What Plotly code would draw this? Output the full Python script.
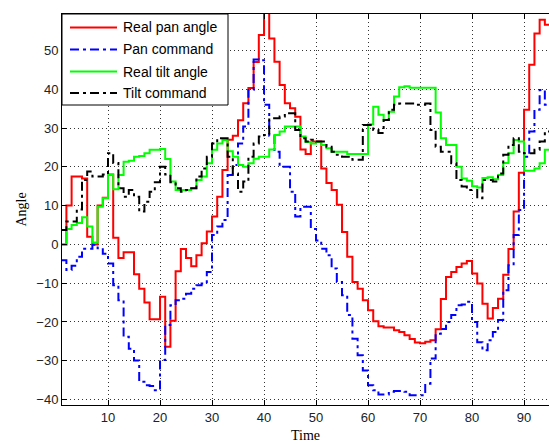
import plotly.graph_objects as go

time = list(range(1, 96))

real_pan = [
    0, 10, 17.5, 17.5, 17, 2, 0, 10, 12, 18,
    1.7, -3.5, -2, -2, -7.7, -11.4, -15, -19.3, -19.3, -13.5,
    -26.4, -19.7, -6.9, -1.2, -3.5, -5.6, -2.8, 0.3, 3.3, 7.2,
    12.3, 19.2, 27, 28, 32, 36.4, 40.3, 47, 54, 62,
    53.1, 47.1, 41.1, 36.4, 35.1, 32.9, 24.5, 23.3, 26.5, 26.5,
    19.6, 15.8, 14, 10.2, 3.2, -3.2, -9.7, -11.4, -14.4, -17,
    -19.8, -21.1, -21.4, -21.4, -22.1, -22.6, -23.4, -24.4, -25.3, -25.5,
    -25.1, -24.7, -21.9, -14.1, -8.4, -7.1, -5.8, -4.9, -4.3, -7.5,
    -10.1, -15.3, -19.1, -16.4, -14, -7.8, -1.2, 8.5, 18.5, 34.7,
    46.3, 54.4, 57.9, 56.6, 50.6,
]

pan_cmd = [
    -4.1, -6.6, -5.5, -3.2, -1.1, -1.1, -0.1, -1, -2.4, -4.9,
    -10.5, -14.4, -23.8, -26.9, -29.9, -35.4, -36.3, -36.5, -37.6, -29.8,
    -20.8, -15.7, -14.4, -14, -12.7, -11.4, -10.5, -10.1, -7.1, 2.4,
    4.6, 6.3, 17.9, 20.5, 26, 30.4, 39.8, 47.7, 47.5, 36,
    28, 23.9, 20, 20, 13.6, 7.2, 9.7, 9.7, 4, 1,
    -1.1, -2.8, -6.2, -9.7, -13.1, -18.2, -24.3, -28.6, -32.5, -36.3,
    -37.6, -38.7, -38.7, -38, -37.8, -37.8, -38, -38.9, -38.9, -38.9,
    -35.9, -29.4, -23, -21.8, -20, -18.2, -15.7, -15.5, -14.8, -20,
    -25.2, -27.3, -24.7, -22.6, -19.5, -11.8, -5.4, 2.4, 8.9, 22.6,
    29.1, 34.7, 39.8, 36, 33,
]

real_tilt = [
    0, 4, 5, 5.5, 7, 4.6, 0.5, 9.7, 11.9, 17.9,
    14.2, 17.9, 21.3, 21.6, 22.6, 22.8, 23.5, 24.4, 24.4, 24.6,
    22, 16.2, 14, 14, 14, 14.5, 16.6, 17.5, 20.9, 24.4,
    26, 26.9, 24, 22.6, 20.5, 20, 20.9, 22.1, 22.6, 22.6,
    24.5, 28.2, 29.1, 30.4, 30.4, 30.4, 27.8, 26.4, 26, 26.4,
    25.6, 24.8, 23.9, 23.9, 23.9, 23.3, 23.3, 23.3, 23.3, 31,
    35.5, 33.4, 32.1, 34.2, 38.1, 40.5, 40.8, 40.4, 40.4, 40.4,
    40.4, 40.4, 34, 27.4, 25.6, 25.6, 20, 17, 16.4, 15,
    14.7, 17.1, 17.3, 16.8, 17.9, 21, 23.5, 26.9, 26.5, 19,
    19, 19.6, 20.9, 24.4, 24.6,
]

tilt_cmd = [
    3.7, 5.9, 5.9, 9, 16.6, 18.8, 17.5, 17.5, 18, 23.5,
    21, 14.5, 12.3, 14, 12.3, 8.5, 11, 13.6, 16, 20,
    18, 16, 14.5, 13.6, 14, 14.5, 17.5, 19.6, 22.6, 26,
    27.4, 27.4, 22.6, 18.3, 13.6, 16.2, 22.6, 26, 27.8, 28.2,
    32.5, 32.5, 33, 33.8, 33.8, 29.5, 27.4, 26.5, 27, 26.5,
    26.5, 25.2, 23.9, 23.1, 22.6, 22.6, 21.8, 21.8, 30.8, 30.8,
    29.5, 28.7, 32.1, 34.7, 36, 36.3, 36.3, 36.3, 36, 36,
    36.3, 29.5, 25.2, 23.9, 23.9, 20.9, 16.6, 14.9, 14, 14,
    11.9, 16.6, 16.6, 16.2, 18.3, 23.1, 25.6, 27.4, 23.9, 23.5,
    23.5, 24.4, 26.5, 29.1, 31,
]

x_ticks = [10, 20, 30, 40, 50, 60, 70, 80, 90]
y_ticks = [-40, -30, -20, -10, 0, 10, 20, 30, 40, 50]

DASHDOT = "9px,4px,3px,4px"
series = [
    ("Real pan angle", real_pan, "#ff0000", "solid"),
    ("Pan command", pan_cmd, "#0000ff", DASHDOT),
    ("Real tilt angle", real_tilt, "#00ff00", "solid"),
    ("Tilt command", tilt_cmd, "#000000", DASHDOT),
]

W, H = 549, 444
ML, MR, MT, MB = 62, 0, 14, 39
PW, PH = W - ML - MR, H - MT - MB


def px(xp):
    return (xp - ML) / PW


def py(yp):
    return (H - MB - yp) / PH


fig = go.Figure()
for name, vals, color, dash in series:
    fig.add_trace(go.Scatter(
        x=time, y=vals, mode="lines", name=name, showlegend=False,
        line=dict(color=color, width=2, dash=dash, shape="hv"),
    ))

# legend box drawn by hand (so the sample lines have MATLAB proportions)
shapes = [dict(type="rect", xref="paper", yref="paper",
               x0=px(62), x1=px(228), y0=py(105), y1=py(14),
               line=dict(color="black", width=1), fillcolor="white", layer="above")]
annotations = []
row_y = [27.5, 49.5, 71.5, 93]
for (name, vals, color, dash), ry in zip(series, row_y):
    shapes.append(dict(type="line", xref="paper", yref="paper",
                       x0=px(70), x1=px(117), y0=py(ry), y1=py(ry),
                       line=dict(color=color, width=2, dash=dash), layer="above"))
    annotations.append(dict(xref="paper", yref="paper", x=px(121), y=py(ry),
                            xanchor="left", yanchor="middle", showarrow=False,
                            text=name,
                            font=dict(family="Liberation Sans, Arial, sans-serif",
                                      size=14, color="#000")))

axis_font = dict(family="Liberation Sans, Arial, sans-serif", size=13, color="#222")
title_font = dict(family="Liberation Serif, Times New Roman, serif", size=14, color="#000")

fig.update_layout(
    width=W, height=H,
    margin=dict(l=ML, r=MR, t=MT, b=MB),
    paper_bgcolor="white", plot_bgcolor="white",
    showlegend=False,
    shapes=shapes, annotations=annotations,
    xaxis=dict(
        range=[1.154, 94.8], tickvals=x_ticks, ticks="inside", ticklen=5,
        tickcolor="black", showline=True, linecolor="black", linewidth=1,
        mirror="ticks", showgrid=True, gridcolor="#333", gridwidth=1,
        griddash="1px,3px", zeroline=False, tickfont=axis_font,
        title=dict(text="Time", font=title_font, standoff=6),
    ),
    yaxis=dict(
        range=[-41.4, 59.4], tickvals=y_ticks, ticks="inside", ticklen=5,
        tickcolor="black", showline=True, linecolor="black", linewidth=1,
        mirror=False, showgrid=True, gridcolor="#333", gridwidth=1,
        griddash="1px,3px", zeroline=False, tickfont=axis_font,
        title=dict(text="Angle", font=title_font, standoff=6),
    ),
)

fig.write_html("out.html", config={"displayModeBar": False},
               post_script="document.body.style.margin='0px';document.body.style.overflow='hidden';")
